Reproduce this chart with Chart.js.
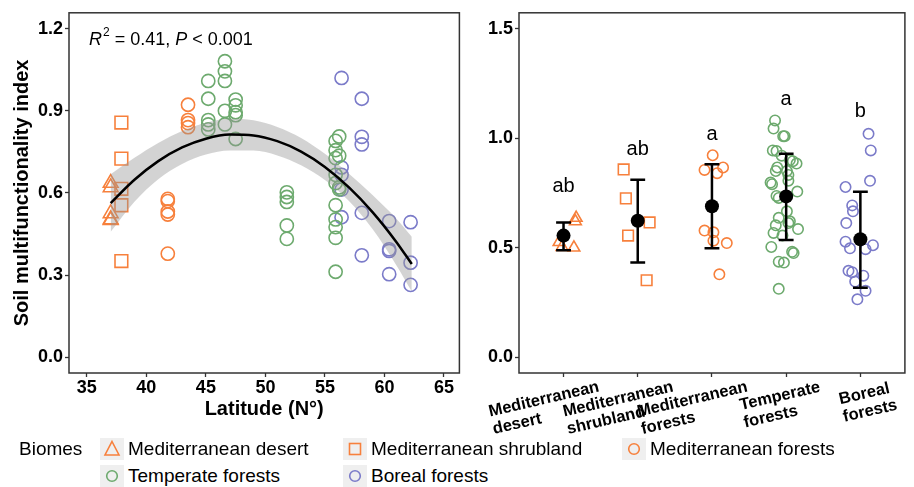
<!DOCTYPE html>
<html>
<head>
<meta charset="utf-8">
<script src="https://cdn.jsdelivr.net/npm/chart.js@4.4.1/dist/chart.umd.min.js"></script>
<style>
  body { margin: 0; background: #fff; font-family: 'Liberation Sans', Arial, sans-serif; }
  #wrap { position: relative; width: 914px; height: 487px; overflow: hidden; background: #fff; }
  #leftChart { position: absolute; left: 0; top: 0; }
  #rightChart { position: absolute; left: 470px; top: 0; }
  .lg { position: absolute; font-size: 19px; color: #000; line-height: 22px; white-space: nowrap; }
  .key { position: absolute; width: 24px; height: 22px; background: #efefef; }
  .key svg { display: block; }
</style>
</head>
<body>
<div id="wrap">
  <canvas id="leftChart" width="470" height="445"></canvas>
  <canvas id="rightChart" width="444" height="445"></canvas>
  <div id="legend"></div>
</div>
<script>
// biomes, in the order of the right panel
const biomes = ['Mediterranean desert', 'Mediterranean shrubland', 'Mediterranean forests', 'Temperate forests', 'Boreal forests'];
const biomeAxisLabels = [['Mediterranean', 'desert'], ['Mediterranean', 'shrubland'], ['Mediterranean', 'forests'], ['Temperate', 'forests'], ['Boreal', 'forests']];
const biomeColors = ['#F7803C', '#F7803C', '#F7803C', '#6DAA6E', '#7B7BC9'];
const biomeShapes = ['triangle', 'rect', 'circle', 'circle', 'circle'];

// sites: latitude, multifunctionality, horizontal jitter in the right panel
const desertLat = [37.0, 37.0, 37.0, 37.0, 37.0];
const desertSmf = [0.636, 0.620, 0.525, 0.503, 0.500];
const desertJit = [0.17, 0.16, -0.06, -0.02, 0.14];

const shrubLat = [37.9, 37.9, 37.9, 37.9, 37.9];
const shrubSmf = [0.857, 0.725, 0.615, 0.555, 0.351];
const shrubJit = [-0.19, -0.16, 0.16, -0.13, 0.12];

const medForLat = [43.5, 43.5, 43.5, 43.5, 41.8, 41.8, 41.8, 41.8, 41.8];
const medForSmf = [0.922, 0.866, 0.855, 0.840, 0.578, 0.570, 0.532, 0.521, 0.378];
const medForJit = [0.01, 0.15, -0.10, 0.07, -0.10, 0.02, 0.02, 0.20, 0.10];

const tempLat = [45.2, 45.2, 45.2, 45.2, 45.2,
                 46.6, 46.6, 46.6, 46.6, 46.6,
                 47.5, 47.5, 47.5, 47.5, 47.5,
                 51.8, 51.8, 51.8, 51.8, 51.8,
                 56.2, 55.9, 55.9, 56.2, 55.9, 55.9, 55.9, 56.2, 56.2, 55.9, 55.9, 55.9, 55.9, 55.9];
const tempSmf = [1.009, 0.944, 0.866, 0.850, 0.832,
                 1.081, 1.044, 1.009, 0.900, 0.850,
                 0.941, 0.920, 0.895, 0.884, 0.797,
                 0.602, 0.585, 0.567, 0.481, 0.432,
                 0.806, 0.790, 0.756, 0.736, 0.727, 0.666, 0.636, 0.620, 0.612, 0.555, 0.503, 0.475, 0.436, 0.312];
const tempJit = [-0.04, -0.18, -0.12, -0.14, 0.03,
                 -0.15, -0.17, -0.02, 0.05, 0.01,
                 -0.13, -0.06, 0.09, 0.14, -0.21,
                 -0.14, 0.16, -0.17, 0.08, -0.03,
                 0.03, -0.19, 0.15, -0.13, -0.10, 0.01, -0.10, 0.05, 0.03, -0.05, -0.20, 0.10, -0.10, -0.10];

const borealLat = [56.4, 58.1, 58.1, 58.1, 56.4, 56.4, 56.4, 58.1, 56.4, 60.4, 62.2, 60.4, 60.4, 58.1, 62.2, 60.4, 62.2];
const borealSmf = [1.020, 0.944, 0.805, 0.777, 0.693, 0.666, 0.612, 0.527, 0.511, 0.497, 0.493, 0.394, 0.388, 0.372, 0.345, 0.303, 0.264];
const borealJit = [0.11, 0.14, 0.13, -0.20, -0.11, -0.10, -0.19, -0.20, 0.17, -0.14, 0.07, -0.16, -0.11, 0.04, -0.07, 0.07, -0.04];

const siteLat = [desertLat, shrubLat, medForLat, tempLat, borealLat];
const siteSmf = [desertSmf, shrubSmf, medForSmf, tempSmf, borealSmf];
const siteJit = [desertJit, shrubJit, medForJit, tempJit, borealJit];

// quadratic fit and its confidence band, read along latitude
const fitLat  = [37, 39, 41, 43, 45, 47, 49, 51, 53, 55, 57, 59, 61, 62.3];
const fitSmf  = [0.563, 0.648, 0.716, 0.766, 0.798, 0.813, 0.810, 0.789, 0.751, 0.695, 0.621, 0.530, 0.421, 0.340];
const fitHigh = [0.668, 0.728, 0.782, 0.826, 0.856, 0.871, 0.865, 0.841, 0.801, 0.743, 0.671, 0.592, 0.506, 0.440];
const fitLow  = [0.458, 0.568, 0.650, 0.706, 0.740, 0.755, 0.755, 0.737, 0.701, 0.647, 0.571, 0.468, 0.336, 0.240];

// right panel summaries
const meanSmf  = [0.555, 0.623, 0.689, 0.734, 0.538];
const lowerSmf = [0.488, 0.432, 0.497, 0.535, 0.317];
const upperSmf = [0.615, 0.810, 0.881, 0.929, 0.755];
const groupLetters = ['ab', 'ab', 'a', 'a', 'b'];
const letterSmf = [0.778, 0.947, 1.018, 1.178, 1.122];

const latTicks = [35, 40, 45, 50, 55, 60, 65];
const leftSmfTicks = [0, 0.3, 0.6, 0.9, 1.2];
const rightSmfTicks = [0, 0.5, 1.0, 1.5];
const biomeTicks = [1, 2, 3, 4, 5];

const FONT = "'Liberation Sans', Arial, sans-serif";
Chart.defaults.font.family = FONT;
Chart.defaults.color = '#000';

const tickFont = { family: FONT, size: 18, weight: 'bold' };
const tickGrid = { drawOnChartArea: false, drawTicks: true, tickLength: 4, tickColor: '#333', tickWidth: 1.3 };

// full frame around the plot area
const panelBox = {
  id: 'panelBox',
  afterDatasetsDraw(chart) {
    const { ctx, chartArea: a } = chart;
    ctx.save();
    ctx.strokeStyle = '#333';
    ctx.lineWidth = 1.5;
    ctx.strokeRect(a.left, a.top, a.right - a.left, a.bottom - a.top);
    ctx.restore();
  }
};

const fitNote = {
  id: 'fitNote',
  afterDraw(chart) {
    const { ctx } = chart;
    let x = 89;
    const y = 40;
    ctx.save();
    ctx.fillStyle = '#000';
    ctx.textBaseline = 'middle';
    ctx.textAlign = 'left';
    const parts = [
      ['italic 18px ' + FONT, 'R', 0],
      ['12px ' + FONT, '2', -7],
      ['18px ' + FONT, ' = 0.41, ', 0],
      ['italic 18px ' + FONT, 'P', 0],
      ['18px ' + FONT, ' < 0.001', 0]
    ];
    parts.forEach(([font, text, dy]) => {
      ctx.font = font;
      ctx.fillText(text, x, y + dy);
      x += ctx.measureText(text).width + (text === 'R' ? 1 : 0);
    });
    ctx.restore();
  }
};

const siteDatasets = (radius, xOf) => biomes.map((name, i) => ({
  label: name,
  data: siteSmf[i].map((v, j) => ({ x: xOf(i, j), y: v })),
  pointStyle: biomeShapes[i],
  pointRadius: radius[biomeShapes[i]],
  pointHoverRadius: radius[biomeShapes[i]],
  pointBorderColor: biomeColors[i],
  pointBackgroundColor: 'rgba(0,0,0,0)',
  pointBorderWidth: 1.6,
  showLine: false
}));

new Chart(document.getElementById('leftChart'), {
  type: 'scatter',
  data: {
    datasets: [
      {
        label: 'fit',
        type: 'line',
        data: fitLat.map((x, i) => ({ x, y: fitSmf[i] })),
        borderColor: '#000',
        borderWidth: 2.5,
        pointRadius: 0,
        tension: 0.4,
        cubicInterpolationMode: 'monotone'
      },
      {
        label: 'band high',
        type: 'line',
        data: fitLat.map((x, i) => ({ x, y: fitHigh[i] })),
        borderWidth: 0,
        borderColor: 'rgba(0,0,0,0)',
        backgroundColor: 'rgba(150,150,150,0.42)',
        pointRadius: 0,
        tension: 0.4,
        cubicInterpolationMode: 'monotone',
        fill: '+1'
      },
      {
        label: 'band low',
        type: 'line',
        data: fitLat.map((x, i) => ({ x, y: fitLow[i] })),
        borderWidth: 0,
        borderColor: 'rgba(0,0,0,0)',
        pointRadius: 0,
        tension: 0.4,
        cubicInterpolationMode: 'monotone',
        fill: false
      },
      ...siteDatasets({ triangle: 8.5, rect: 9, circle: 6.6 }, (i, j) => siteLat[i][j])
    ]
  },
  options: {
    responsive: false,
    animation: false,
    layout: { padding: { left: 0, right: 4, top: 10, bottom: 0 } },
    plugins: { legend: { display: false }, tooltip: { enabled: false } },
    scales: {
      x: {
        type: 'linear',
        min: 33.5,
        max: 66.3,
        afterBuildTicks: (s) => { s.ticks = latTicks.map((v) => ({ value: v })); },
        afterFit: (s) => { s.height = 72; },
        ticks: { font: tickFont, color: '#000', padding: 0, maxRotation: 0, autoSkip: false },
        grid: tickGrid,
        border: { display: false },
        title: { display: true, text: 'Latitude (N°)', font: { family: FONT, size: 20, weight: 'bold' }, color: '#000', padding: { top: 0, bottom: 24 } }
      },
      y: {
        min: -0.058,
        max: 1.258,
        afterBuildTicks: (s) => { s.ticks = leftSmfTicks.map((v) => ({ value: v })); },
        afterFit: (s) => { s.width = 69; },
        ticks: { font: tickFont, color: '#000', padding: 2, callback: (v) => v.toFixed(1) },
        grid: tickGrid,
        border: { display: false },
        title: { display: true, text: 'Soil multifunctionality index', font: { family: FONT, size: 20, weight: 'bold' }, color: '#000', padding: { top: 10, bottom: 0 } }
      }
    }
  },
  plugins: [panelBox, fitNote]
});

// error bars go under the mean points, letters and category labels on top
const groupStats = {
  id: 'groupStats',
  beforeDatasetDraw(chart, args) {
    if (args.index !== 0) return;
    const { ctx, scales: { x, y } } = chart;
    ctx.save();
    ctx.strokeStyle = '#000';
    ctx.lineWidth = 2.5;
    meanSmf.forEach((m, i) => {
      const px = x.getPixelForValue(biomeTicks[i]);
      const half = x.getPixelForValue(biomeTicks[i] + 0.1) - px;
      const top = y.getPixelForValue(upperSmf[i]);
      const bot = y.getPixelForValue(lowerSmf[i]);
      ctx.beginPath();
      ctx.moveTo(px, top); ctx.lineTo(px, bot);
      ctx.moveTo(px - half, top); ctx.lineTo(px + half, top);
      ctx.moveTo(px - half, bot); ctx.lineTo(px + half, bot);
      ctx.stroke();
    });
    ctx.restore();
  },
  afterDraw(chart) {
    const { ctx, scales: { x, y } } = chart;
    ctx.save();
    ctx.fillStyle = '#000';
    ctx.font = '20px ' + FONT;
    ctx.textAlign = 'center';
    ctx.textBaseline = 'middle';
    groupLetters.forEach((t, i) => {
      ctx.fillText(t, x.getPixelForValue(biomeTicks[i]), y.getPixelForValue(letterSmf[i]));
    });
    // angled two-line category labels
    const angle = 13 * Math.PI / 180;
    ctx.font = 'bold 16.5px ' + FONT;
    ctx.textAlign = 'left';
    ctx.textBaseline = 'top';
    biomeAxisLabels.forEach((lines, i) => {
      const w = Math.max(...lines.map((l) => ctx.measureText(l).width));
      ctx.save();
      ctx.translate(x.getPixelForValue(biomeTicks[i]) + 28, 380);
      ctx.rotate(-angle);
      lines.forEach((l, k) => ctx.fillText(l, -w * 0.95, k * 18));
      ctx.restore();
    });
    ctx.restore();
  }
};

new Chart(document.getElementById('rightChart'), {
  type: 'scatter',
  data: {
    datasets: [
      {
        label: 'mean',
        data: meanSmf.map((m, i) => ({ x: biomeTicks[i], y: m })),
        pointRadius: 7,
        pointHoverRadius: 7,
        pointBackgroundColor: '#000',
        pointBorderColor: '#000',
        pointBorderWidth: 0
      },
      ...siteDatasets({ triangle: 6.8, rect: 7.5, circle: 5.2 }, (i, j) => biomeTicks[i] + siteJit[i][j])
    ]
  },
  options: {
    responsive: false,
    animation: false,
    layout: { padding: { left: 0, right: 1, top: 10, bottom: 0 } },
    plugins: { legend: { display: false }, tooltip: { enabled: false } },
    scales: {
      x: {
        type: 'linear',
        min: 0.4,
        max: 5.6,
        afterBuildTicks: (s) => { s.ticks = biomeTicks.map((v) => ({ value: v })); },
        afterFit: (s) => { s.height = 72; },
        ticks: { font: tickFont, callback: () => '', maxRotation: 0, autoSkip: false },
        grid: tickGrid,
        border: { display: false }
      },
      y: {
        min: -0.0725,
        max: 1.5725,
        afterBuildTicks: (s) => { s.ticks = rightSmfTicks.map((v) => ({ value: v })); },
        afterFit: (s) => { s.width = 49; },
        ticks: { font: tickFont, color: '#000', padding: 2, callback: (v) => v.toFixed(1) },
        grid: tickGrid,
        border: { display: false }
      }
    }
  },
  plugins: [panelBox, groupStats]
});

// legend at the bottom
const keySvg = (shape, color) => {
  if (shape === 'triangle') return `<svg width="24" height="22"><polygon points="12,3.5 19,17 5,17" fill="none" stroke="${color}" stroke-width="1.6"/></svg>`;
  if (shape === 'rect') return `<svg width="24" height="22"><rect x="6.5" y="5.5" width="11" height="11" fill="none" stroke="${color}" stroke-width="1.6"/></svg>`;
  return `<svg width="24" height="22"><circle cx="12" cy="11" r="5.3" fill="none" stroke="${color}" stroke-width="1.6"/></svg>`;
};
const legendKeyX = [100, 343, 622, 100, 343];
const legendRowY = [438, 465];
const legendRow = [0, 0, 0, 1, 1];
const legend = document.getElementById('legend');
let html = `<div class="lg" style="left:19px;top:${legendRowY[0]}px">Biomes</div>`;
biomes.forEach((name, i) => {
  const top = legendRowY[legendRow[i]];
  html += `<div class="key" style="left:${legendKeyX[i]}px;top:${top}px">${keySvg(biomeShapes[i], biomeColors[i])}</div>`;
  html += `<div class="lg" style="left:${legendKeyX[i] + 28}px;top:${top}px">${name}</div>`;
});
legend.innerHTML = html;
</script>
</body>
</html>
